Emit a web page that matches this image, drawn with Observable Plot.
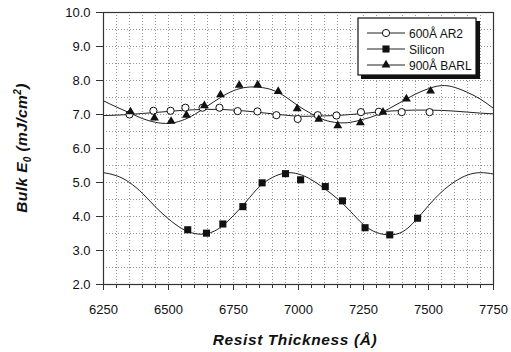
<!DOCTYPE html>
<html>
<head>
<meta charset="utf-8">
<script src="https://cdn.jsdelivr.net/npm/d3@7"></script>
<script src="https://cdn.jsdelivr.net/npm/@observablehq/plot@0.6"></script>
<style>
  html, body { margin: 0; padding: 0; background: #fff; }
  #chart svg { display: block; }
</style>
</head>
<body>
<div id="chart"></div>
<script>
// ---- data ----
const seriesNames = ["600Å AR2", "Silicon", "900Å BARL"];

const ar2X = [6350, 6442, 6508, 6565, 6631, 6696, 6766, 6842, 6915, 6997, 7074, 7146, 7240, 7309, 7397, 7504];
const ar2Y = [7.00, 7.11, 7.11, 7.20, 7.20, 7.20, 7.10, 7.09, 6.98, 6.87, 6.98, 6.97, 7.07, 7.08, 7.07, 7.07];

const siliconX = [6574, 6646, 6709, 6786, 6860, 6950, 7008, 7103, 7169, 7256, 7351, 7458];
const siliconY = [3.61, 3.51, 3.78, 4.29, 4.99, 5.26, 5.08, 4.88, 4.46, 3.67, 3.46, 3.95];

const barlX = [6354, 6446, 6510, 6569, 6638, 6700, 6772, 6843, 6922, 6995, 7078, 7151, 7238, 7325, 7415, 7508];
const barlY = [7.08, 6.90, 6.80, 6.98, 7.26, 7.58, 7.86, 7.87, 7.68, 7.17, 6.86, 6.67, 6.76, 7.07, 7.46, 7.69];

// fitted curves, read every 50 Å
const curveX = [6250, 6300, 6350, 6400, 6450, 6500, 6550, 6600, 6650, 6700, 6750, 6800, 6850, 6900, 6950, 7000,
                7050, 7100, 7150, 7200, 7250, 7300, 7350, 7400, 7450, 7500, 7550, 7600, 7650, 7700, 7750];
const ar2Curve = [6.97, 6.98, 7.00, 7.03, 7.06, 7.09, 7.12, 7.14, 7.15, 7.15, 7.13, 7.10, 7.06, 7.02, 6.98, 6.95,
                  6.95, 6.96, 6.97, 7.00, 7.03, 7.07, 7.10, 7.12, 7.13, 7.13, 7.12, 7.10, 7.07, 7.04, 7.02];
const siliconCurve = [5.29, 5.20, 5.00, 4.68, 4.28, 3.93, 3.65, 3.50, 3.50, 3.68, 4.03, 4.45, 4.88, 5.15, 5.28, 5.25,
                      5.08, 4.82, 4.52, 4.15, 3.76, 3.53, 3.46, 3.55, 3.88, 4.32, 4.72, 5.02, 5.22, 5.29, 5.25];
const barlCurve = [7.40, 7.22, 7.05, 6.88, 6.77, 6.74, 6.82, 7.00, 7.25, 7.50, 7.70, 7.80, 7.80, 7.72, 7.52, 7.25,
                   7.02, 6.84, 6.76, 6.77, 6.86, 6.98, 7.18, 7.39, 7.60, 7.76, 7.85, 7.80, 7.65, 7.45, 7.18];

// tick values
const xTicks = [6250, 6500, 6750, 7000, 7250, 7500, 7750];
const xMinor = [6250, 6300, 6350, 6400, 6450, 6500, 6550, 6600, 6650, 6700, 6750, 6800, 6850, 6900, 6950, 7000,
                7050, 7100, 7150, 7200, 7250, 7300, 7350, 7400, 7450, 7500, 7550, 7600, 7650, 7700, 7750];
const yTicks = [2, 3, 4, 5, 6, 7, 8, 9, 10];
const yMinor = [2, 2.5, 3, 3.5, 4, 4.5, 5, 5.5, 6, 6.5, 7, 7.5, 8, 8.5, 9, 9.5, 10];

// ---- tables ----
const pts = (xs, ys) => xs.map((x, i) => ({x, y: ys[i]}));
const curve = (ys) => curveX.map((x, i) => ({x, y: ys[i]}));

const font = "'Liberation Sans', Arial, Helvetica, sans-serif";
const rCircle = 3.6, rSquare = 4.0, rTriangle = 3.3;

const chart = Plot.plot({
  width: 511,
  height: 352,
  marginLeft: 103,
  marginRight: 18,
  marginTop: 12,
  marginBottom: 68,
  style: {fontFamily: font, fontSize: "13px", background: "#fff", color: "#111"},
  x: {domain: [6250, 7750], label: null},
  y: {domain: [2, 10], label: null},
  marks: [
    Plot.gridX(xMinor, {stroke: "#888", strokeOpacity: 0.9, strokeDasharray: "1,2"}),
    Plot.gridY(yMinor, {stroke: "#888", strokeOpacity: 0.9, strokeDasharray: "1,2"}),
    Plot.line(curve(ar2Curve), {x: "x", y: "y", curve: "natural", stroke: "#222", strokeWidth: 1, clip: true}),
    Plot.line(curve(siliconCurve), {x: "x", y: "y", curve: "natural", stroke: "#222", strokeWidth: 1, clip: true}),
    Plot.line(curve(barlCurve), {x: "x", y: "y", curve: "natural", stroke: "#222", strokeWidth: 1, clip: true}),
    Plot.dot(pts(ar2X, ar2Y), {x: "x", y: "y", symbol: "circle", r: rCircle, fill: "#fff", stroke: "#111", strokeWidth: 1}),
    Plot.dot(pts(siliconX, siliconY), {x: "x", y: "y", symbol: "square", r: rSquare, fill: "#111", stroke: "none"}),
    Plot.dot(pts(barlX, barlY), {x: "x", y: "y", symbol: "triangle", r: rTriangle, fill: "#111", stroke: "none"}),
    Plot.frame({stroke: "#333", strokeWidth: 1.2}),
    Plot.axisX(xMinor, {anchor: "bottom", tickSize: 4, tickFormat: () => "", stroke: "#333", label: null}),
    Plot.axisX(xTicks, {anchor: "bottom", tickSize: 6, tickPadding: 14, tickFormat: d => String(d), stroke: "#333", fontSize: 13, label: null}),
    Plot.axisY(yTicks, {anchor: "left", tickSize: 7, tickPadding: 6, tickFormat: d => d.toFixed(1), stroke: "#333", fontSize: 13, label: null})
  ]
});

document.getElementById("chart").appendChild(chart);

// ---- axis titles and legend ----
const svg = d3.select(chart);

svg.append("text")
  .attr("x", 295).attr("y", 345)
  .attr("text-anchor", "middle")
  .attr("font-family", font).attr("font-size", 15.5)
  .attr("font-weight", "bold").attr("font-style", "italic")
  .attr("letter-spacing", 0.6)
  .attr("fill", "#111")
  .text("Resist Thickness (Å)");

const yt = svg.append("text")
  .attr("transform", "translate(27,148) rotate(-90)")
  .attr("text-anchor", "middle")
  .attr("font-family", font).attr("font-size", 15.5)
  .attr("font-weight", "bold").attr("font-style", "italic")
  .attr("letter-spacing", 0.4)
  .attr("fill", "#111");
yt.append("tspan").text("Bulk E");
yt.append("tspan").attr("font-size", 10).attr("dy", 4).text("0");
yt.append("tspan").attr("dy", -4).text(" (mJ/cm");
yt.append("tspan").attr("font-size", 10).attr("dy", -6).text("2");
yt.append("tspan").attr("dy", 6).text(")");

// legend
const lg = svg.append("g").attr("text-anchor", "start");
lg.append("rect").attr("x", 361).attr("y", 21).attr("width", 119).attr("height", 58).attr("fill", "#111");
lg.append("rect").attr("x", 358).attr("y", 18).attr("width", 118).attr("height", 57)
  .attr("fill", "#fff").attr("stroke", "#111").attr("stroke-width", 1.2);
const symbols = [
  {sym: d3.symbolCircle, fill: "#fff", stroke: "#111", size: Math.PI * rCircle * rCircle},
  {sym: d3.symbolSquare, fill: "#111", stroke: "none", size: Math.PI * rSquare * rSquare},
  {sym: d3.symbolTriangle, fill: "#111", stroke: "none", size: Math.PI * rTriangle * rTriangle}
];
seriesNames.forEach((name, i) => {
  const y = 33 + i * 16;
  lg.append("line").attr("x1", 367).attr("x2", 405).attr("y1", y).attr("y2", y).attr("stroke", "#222");
  lg.append("path").attr("d", d3.symbol(symbols[i].sym, symbols[i].size)())
    .attr("transform", `translate(386,${y})`)
    .attr("fill", symbols[i].fill).attr("stroke", symbols[i].stroke);
  lg.append("text").attr("x", 409).attr("y", y + 4.5)
    .attr("text-anchor", "start")
    .attr("font-family", font).attr("font-size", 12).attr("fill", "#111")
    .text(name);
});
</script>
</body>
</html>
